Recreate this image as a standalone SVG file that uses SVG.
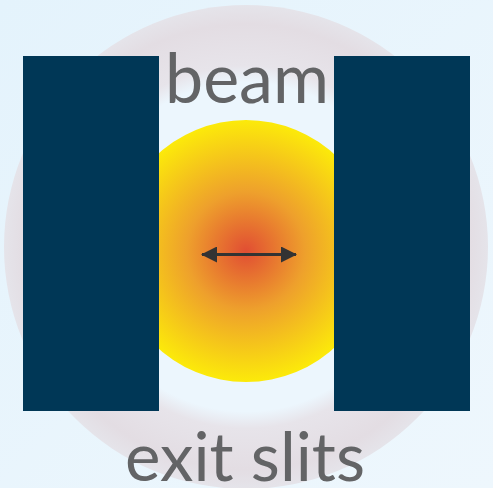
<svg xmlns="http://www.w3.org/2000/svg" width="493" height="488" viewBox="0 0 493 488">
<defs>
<linearGradient id="bg" x1="0" y1="0" x2="1" y2="1">
<stop offset="0" stop-color="#e4f3fc"/>
<stop offset="1" stop-color="#eef7fd"/>
</linearGradient>
<radialGradient id="ringg" cx="0.5" cy="0.5" r="0.5">
<stop offset="0" stop-color="#ecf6fd"/>
<stop offset="0.68" stop-color="#ecf6fd"/>
<stop offset="0.75" stop-color="#e7e4ea"/>
<stop offset="0.92" stop-color="#e3dde3"/>
<stop offset="1" stop-color="#e5e4ea"/>
</radialGradient>
<radialGradient id="beamg" cx="0.5" cy="0.5" r="0.5">
<stop offset="0" stop-color="#e14e33"/>
<stop offset="0.45" stop-color="#eea02c"/>
<stop offset="1" stop-color="#fcea0a"/>
</radialGradient>
<marker id="ah" viewBox="0 0 16 16" refX="15" refY="8" markerWidth="16" markerHeight="16" orient="auto-start-reverse" markerUnits="userSpaceOnUse">
<path d="M0,0 L16,8 L0,16 Z" fill="#333333"/>
</marker>
<style>
.slit{fill:#003756}
.lbl{font-family:Lato,"Open Sans",sans-serif;fill:#636466}
</style>
</defs>
<rect width="493" height="488" fill="url(#bg)"/>
<circle cx="246" cy="247" r="242" fill="url(#ringg)"/>
<g id="beam">
<circle cx="246" cy="251" r="131" fill="url(#beamg)"/>
</g>
<g id="slit-left"><rect class="slit" x="23" y="56" width="136" height="355"/></g>
<g id="slit-right"><rect class="slit" x="334" y="56" width="136" height="355"/></g>
<g id="label-beam"><text class="lbl" x="165" y="103" font-size="70" textLength="164" lengthAdjust="spacingAndGlyphs">beam</text></g>
<g id="label-exit"><text class="lbl" x="125" y="481" font-size="67" textLength="240" lengthAdjust="spacingAndGlyphs">exit slits</text></g>
<g id="connectors">
<line x1="202" y1="254.5" x2="296" y2="254.5" stroke="#333333" stroke-width="3" marker-start="url(#ah)" marker-end="url(#ah)"/>
</g>
</svg>
